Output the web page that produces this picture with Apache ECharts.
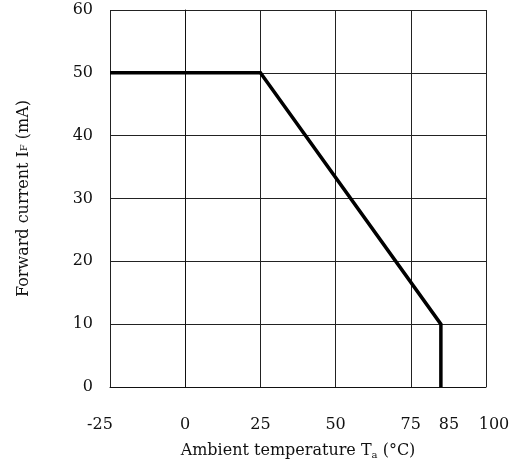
<!DOCTYPE html>
<html>
<head>
<meta charset="utf-8">
<script src="https://cdn.jsdelivr.net/npm/echarts@6/dist/echarts.min.js"></script>
<style>html,body{margin:0;padding:0;background:#fff}#c{width:510px;height:465px}</style>
</head>
<body>
<div id="c"></div>
<script>
const temps = [-25, 25, 85, 85];
const currents = [50, 50, 10, 0];
const xGridValues = [-25, 0, 25, 50, 75, 100];
const xLabelValues = [-25, 0, 25, 50, 75, 85, 100];
const yTicks = [0, 10, 20, 30, 40, 50, 60];
const xTitle = ['Ambient temperature T', 'a', ' (°C)'];
const yTitle = ['Forward current I', 'F', ' (mA)'];

const FONT = 'DejaVu Serif';
const chart = echarts.init(document.getElementById('c'), null, {renderer: 'canvas'});
const shift = {'-25': 'l', '85': 'r', '100': 'r'};
chart.setOption({
  animation: false,
  grid: {left: 110, right: 24, top: 10, bottom: 78, outerBoundsMode: 'none', containLabel: false},
  xAxis: {
    type: 'value', min: -25, max: 100, interval: 25,
    name: '{m|' + xTitle[0] + '}{s|' + xTitle[1] + '}{m|' + xTitle[2] + '}',
    nameLocation: 'middle', nameGap: 55,
    nameTextStyle: {rich: {
      m: {fontFamily: FONT, fontSize: 16, color: '#111'},
      s: {fontFamily: FONT, fontSize: 10, color: '#111', verticalAlign: 'bottom', padding: [8, 0, 0, 0]}
    }},
    axisLine: {show: true, onZero: false, lineStyle: {color: '#111', width: 1}},
    axisTick: {show: false, customValues: xGridValues},
    splitLine: {show: true, lineStyle: {color: '#222', width: 1}},
    axisLabel: {
      customValues: xLabelValues, margin: 30,
      formatter: v => shift[String(v)] ? '{' + shift[String(v)] + '|' + v + '}' : '{n|' + v + '}',
      rich: {
        n: {fontFamily: FONT, fontSize: 16, color: '#111'},
        l: {fontFamily: FONT, fontSize: 16, color: '#111', padding: [0, 20, 0, 0]},
        r: {fontFamily: FONT, fontSize: 16, color: '#111', padding: [0, 0, 0, 16]}
      }
    }
  },
  yAxis: {
    type: 'value', min: 0, max: 60, interval: 10,
    name: '{m|' + yTitle[0] + '}{s|' + yTitle[1] + '}{m|' + yTitle[2] + '}',
    nameLocation: 'middle', nameGap: 78, nameRotate: 90,
    nameTextStyle: {rich: {
      m: {fontFamily: FONT, fontSize: 16, color: '#111'},
      s: {fontFamily: FONT, fontSize: 10, color: '#111'}
    }},
    axisLine: {show: true, lineStyle: {color: '#111', width: 1}},
    axisTick: {show: false},
    splitLine: {show: true, lineStyle: {color: '#222', width: 1}},
    axisLabel: {
      margin: 17, fontFamily: FONT, fontSize: 16, color: '#111',
      formatter: v => yTicks.includes(v) ? String(v) : ''
    }
  },
  series: [{
    type: 'line',
    data: temps.map((t, i) => [t, currents[i]]),
    symbol: 'none',
    lineStyle: {color: '#000', width: 3.5, join: 'miter'},
    z: 5
  }]
});
</script>
</body>
</html>
